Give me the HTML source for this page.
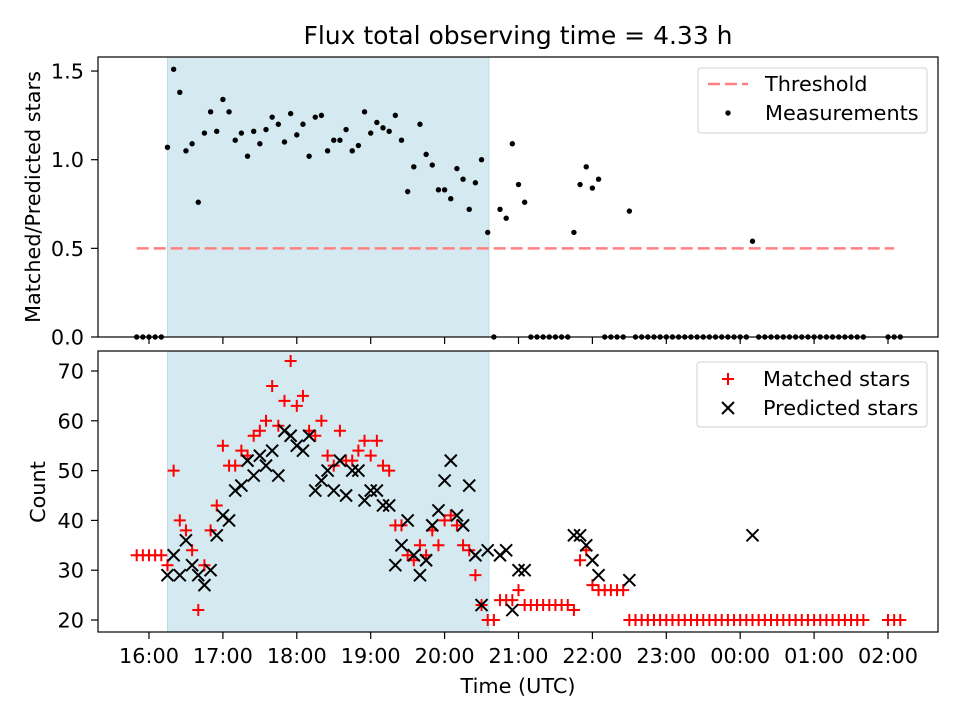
<!DOCTYPE html>
<html><head><meta charset="utf-8"><style>
html,body{margin:0;padding:0;background:#fff;}
svg text{font-family:"DejaVu Sans","Liberation Sans",sans-serif;fill:#000;}
</style></head><body>
<svg id="fig" width="960" height="720" viewBox="0 0 960 720" xmlns="http://www.w3.org/2000/svg">
<rect width="960" height="720" fill="#fff"/>
<text x="518" y="44" font-size="25" text-anchor="middle">Flux total observing time = 4.33 h</text>
<g id="topPanel"></g>
<g id="botPanel"></g>
<text x="518" y="693" font-size="20.8" text-anchor="middle">Time (UTC)</text>
<text transform="translate(40,197) rotate(-90)" font-size="20.8" text-anchor="middle">Matched/Predicted stars</text>
<text transform="translate(45,492) rotate(-90)" font-size="20.8" text-anchor="middle">Count</text>
</svg>
<script>
// slot k => minutes since 16:00 = -10 + 5k (5-minute cadence starting 15:50)
const slotStartMin = -10, slotStepMin = 5;
const ratio = [0,0,0,0,0,
1.07,1.51,1.38,1.05,1.09,0.76,1.15,1.27,1.16,1.34,1.27,1.11,1.15,1.02,1.16,1.09,1.17,1.24,1.20,1.10,1.26,1.14,1.20,1.02,1.24,1.25,1.05,1.11,1.11,1.17,1.05,1.08,1.27,1.15,1.21,1.18,1.16,1.25,1.11,0.82,0.96,1.20,1.03,0.97,0.83,0.83,0.78,0.95,0.89,0.72,0.87,1.00,0.59,
0,0.72,0.67,1.09,0.86,0.76,0,0,0,0,0,0,0,0.59,0.86,0.96,0.84,0.89,0,0,0,0,0.71,
0,0,0,0,0,0,0,0,0,0,0,0,0,0,0,0,0,0,0,0.54,
0,0,0,0,0,0,0,0,0,0,0,0,0,0,0,0,0,0,null,null,null,0,0,0];
const matched = [33,33,33,33,33,
31,50,40,38,34,22,31,38,43,55,51,51,54,53,57,58,60,67,59,64,72,63,65,58,57,60,53,51,58,52,52,54,56,53,56,51,50,39,39,33,32,35,33,38,35,40,41,39,35,34,29,23,20,
20,24,24,24,26,23,23,23,23,23,23,23,23,22,32,34,27,26,26,26,26,26,
20,20,20,20,20,20,20,20,20,20,20,20,20,20,20,20,20,20,20,20,20,20,20,20,20,20,20,20,20,20,20,20,20,20,20,20,20,20,20,null,null,null,20,20,20];
const predicted = [null,null,null,null,null,
29,33,29,36,31,29,27,30,37,41,40,46,47,52,49,53,51,54,49,58,57,55,54,57,46,48,50,46,52,45,50,50,44,46,46,43,43,31,35,40,33,29,32,39,42,48,52,41,39,47,33,23,34,
null,33,34,22,30,30,null,null,null,null,null,null,null,37,37,35,32,29,null,null,null,null,28,
null,null,null,null,null,null,null,null,null,null,null,null,null,null,null,null,null,null,null,37,
null,null,null,null,null,null,null,null,null,null,null,null,null,null,null,null,null,null,null,null,null,null,null,null];
const xTickLabels = ["16:00","17:00","18:00","19:00","20:00","21:00","22:00","23:00","00:00","01:00","02:00"];
const topYTicks = [0.0,0.5,1.0,1.5];
const botYTicks = [20,30,40,50,60,70];
const threshold = 0.5;
const thresholdSpanMin = [-10, 605];
const shadeSpanMin = [15, 276];

const NS="http://www.w3.org/2000/svg";
const L=98,R=938;
const FS=20.8;
const xs = m => 149 + m/60*73.9;
const yTop = v => 337 - v*177.3;
const yBot = v => 620 - (v-20)*4.98;
function mk(parent,tag,attrs){const e=document.createElementNS(NS,tag);for(const k in attrs)e.setAttribute(k,attrs[k]);parent.appendChild(e);return e;}
const topG=document.getElementById('topPanel'), botG=document.getElementById('botPanel');

function panel(g,y0,y1,ticks,yf,fmt,showX){
  const sh=mk(g,'rect',{x:xs(shadeSpanMin[0]),y:y0,width:xs(shadeSpanMin[1])-xs(shadeSpanMin[0]),height:y1-y0,fill:'#d4e9f0',stroke:'#bcdce6','stroke-width':1});
  
  
  ticks.forEach(t=>{const y=yf(t);
    const tl=mk(g,'line',{x1:L-7,x2:L,y1:y,y2:y,stroke:'#000','stroke-width':1.2});
    
    
    const tx=mk(g,'text',{x:L-14,y:y+7.5,'font-size':FS,'text-anchor':'end'});tx.textContent=fmt(t);
    
    
  });
  xTickLabels.forEach((lb,i)=>{const x=xs(i*60);
    const tl=mk(g,'line',{x1:x,x2:x,y1:y1,y2:y1+7,stroke:'#000','stroke-width':1.2});
    
    
    if(showX){const tx=mk(g,'text',{x:x,y:y1+31,'font-size':FS,'text-anchor':'middle'});tx.textContent=lb;
      
      }
  });
}
function frame(g,y0,y1){const f=mk(g,'rect',{x:L,y:y0,width:R-L,height:y1-y0,fill:'none',stroke:'#000','stroke-width':1.2});
  
  }

// top panel
panel(topG,57,337,topYTicks,yTop,t=>t.toFixed(1),false);
const th=mk(topG,'line',{x1:xs(thresholdSpanMin[0]),x2:xs(thresholdSpanMin[1]),y1:yTop(threshold),y2:yTop(threshold),stroke:'#ff8080','stroke-width':2.5,'stroke-dasharray':'12,5'});


ratio.forEach((v,k)=>{if(v===null)return;
  const c=mk(topG,'circle',{cx:xs(slotStartMin+slotStepMin*k),cy:yTop(v),r:2.7,fill:'#000'});
  
  
});
frame(topG,57,337);
const lg=mk(topG,'g',{});


mk(lg,'rect',{x:698,y:68,width:229,height:65,rx:3,fill:'#fff','fill-opacity':0.8,stroke:'#d0d0d0'});
mk(lg,'line',{x1:708,x2:748,y1:84,y2:84,stroke:'#ff8080','stroke-width':2.5,'stroke-dasharray':'12,5'});
let t1=mk(lg,'text',{x:765,y:91,'font-size':FS});t1.textContent='Threshold';
mk(lg,'circle',{cx:728,cy:113,r:2.7,fill:'#000'});
let t2=mk(lg,'text',{x:765,y:120,'font-size':FS});t2.textContent='Measurements';

// bottom panel
panel(botG,351,632,botYTicks,yBot,t=>String(t),true);
function plus(g,x,y){return mk(g,'path',{d:`M${x-6},${y}H${x+6}M${x},${y-6}V${y+6}`,stroke:'#ff0000','stroke-width':2,fill:'none'});}
function cross(g,x,y){return mk(g,'path',{d:`M${x-6},${y-6}L${x+6},${y+6}M${x-6},${y+6}L${x+6},${y-6}`,stroke:'#000','stroke-width':2,fill:'none'});}
matched.forEach((v,k)=>{if(v===null)return;
  const p=plus(botG,xs(slotStartMin+slotStepMin*k),yBot(v));
  
  
});
predicted.forEach((v,k)=>{if(v===null)return;
  const p=cross(botG,xs(slotStartMin+slotStepMin*k),yBot(v));
  
  
});
frame(botG,351,632);
const lg2=mk(botG,'g',{});


mk(lg2,'rect',{x:697,y:362,width:230,height:65,rx:3,fill:'#fff','fill-opacity':0.8,stroke:'#d0d0d0'});
plus(lg2,728,379);
let t3=mk(lg2,'text',{x:763,y:386,'font-size':FS});t3.textContent='Matched stars';
cross(lg2,728,408);
let t4=mk(lg2,'text',{x:763,y:415,'font-size':FS});t4.textContent='Predicted stars';
</script>
</body></html>
